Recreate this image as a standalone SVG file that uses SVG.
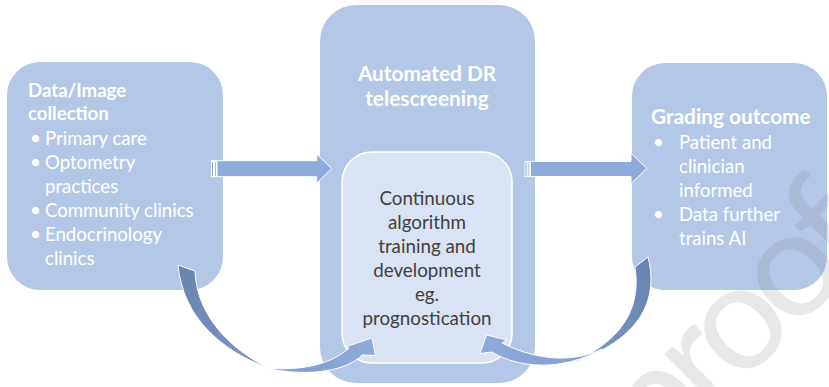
<svg xmlns="http://www.w3.org/2000/svg" width="829" height="387" viewBox="0 0 829 387">
  <defs>
    <style>
      .box { fill: #b4c7e7; }
      .inner { fill: #dae3f3; stroke: #ffffff; stroke-width: 1.5; }
      .arrow { fill: #8faadc; stroke: #ffffff; stroke-width: 1; }
      .t { font-family: Lato, "Liberation Sans", sans-serif; font-size: 18.6px; fill: #ffffff; }
      .tb { font-family: Lato, "Liberation Sans", sans-serif; font-weight: bold; fill: #ffffff; }
      .dark { font-family: Lato, "Liberation Sans", sans-serif; font-size: 18.8px; fill: #404040; text-anchor: middle; }
      .mark { font-family: Lato, "Liberation Sans", sans-serif; font-size: 150px; letter-spacing: -10px; fill: #808080; fill-opacity: 0.18; }
    </style>
    <linearGradient id="backL" gradientUnits="userSpaceOnUse" x1="185" y1="268" x2="268" y2="368">
      <stop offset="0" stop-color="#6a84b0"/>
      <stop offset="1" stop-color="#7d98c8"/>
    </linearGradient>
    <linearGradient id="frontL" gradientUnits="userSpaceOnUse" x1="266" y1="370" x2="375" y2="345">
      <stop offset="0" stop-color="#7f9bcb"/>
      <stop offset="1" stop-color="#8faadc"/>
    </linearGradient>
    <linearGradient id="backR" gradientUnits="userSpaceOnUse" x1="642" y1="262" x2="565" y2="365">
      <stop offset="0" stop-color="#6a84b0"/>
      <stop offset="1" stop-color="#7d98c8"/>
    </linearGradient>
    <linearGradient id="frontR" gradientUnits="userSpaceOnUse" x1="600" y1="350" x2="485" y2="345">
      <stop offset="0" stop-color="#7f9bcb"/>
      <stop offset="1" stop-color="#8faadc"/>
    </linearGradient>
  </defs>

  <rect width="829" height="387" fill="#ffffff"/>

  <!-- Data / image collection -->
  <g id="collection">
    <rect class="box" x="7" y="62" width="216" height="228" rx="33"/>
    <text class="tb" font-size="18.6" x="28" y="97">Data/Image</text>
    <text class="tb" font-size="18.6" x="28" y="120">collection</text>
    <g class="t">
      <text x="30" y="145">•</text><text x="45" y="145">Primary care</text>
      <text x="30" y="169">•</text><text x="45" y="169">Optometry</text>
      <text x="45" y="193">practices</text>
      <text x="30" y="217">•</text><text x="45" y="217">Community clinics</text>
      <text x="30" y="241">•</text><text x="45" y="241">Endocrinology</text>
      <text x="45" y="265">clinics</text>
    </g>
  </g>

  <!-- Automated DR telescreening with inner training box -->
  <g id="telescreening">
    <rect class="box" x="320" y="5" width="215" height="378" rx="36"/>
    <text class="tb" font-size="20.8" x="427" y="81" text-anchor="middle">Automated DR</text>
    <text class="tb" font-size="20.8" x="427" y="106" text-anchor="middle">telescreening</text>
  </g>
  <g id="training">
    <rect class="inner" x="342" y="152" width="170" height="211" rx="30"/>
    <g class="dark">
      <text x="427" y="205">Continuous</text>
      <text x="427" y="229">algorithm</text>
      <text x="427" y="253">training and</text>
      <text x="427" y="277">development</text>
      <text x="427" y="301">eg.</text>
      <text x="427" y="325">prognostication</text>
    </g>
  </g>

  <!-- Grading outcome -->
  <g id="outcome">
    <rect class="box" x="632" y="63" width="195" height="227" rx="33"/>
    <text class="tb" font-size="20.8" x="651" y="124">Grading outcome</text>
    <g class="t">
      <text x="653" y="149">•</text><text x="679" y="149">Patient and</text>
      <text x="679" y="173">clinician</text>
      <text x="679" y="197">informed</text>
      <text x="653" y="221">•</text><text x="679" y="221">Data further</text>
      <text x="679" y="245">trains AI</text>
    </g>
  </g>

  <!-- connectors -->
  <g id="connectors">
    <!-- striped block arrow: collection to telescreening -->
    <rect class="arrow" x="211.5" y="160.7" width="2" height="16"/>
    <rect class="arrow" x="214.5" y="160.7" width="1.8" height="16"/>
    <path class="arrow" d="M217,160.7 H316.7 V154 L331.7,168.7 L316.7,183.3 V176.7 H217 Z"/>
    <!-- striped block arrow: telescreening to outcome -->
    <rect class="arrow" x="525" y="161.5" width="2" height="15"/>
    <rect class="arrow" x="528" y="161.5" width="1.8" height="15"/>
    <path class="arrow" d="M530.5,161.5 H631 V153.3 L647,168.5 L631,183.5 V176.5 H530.5 Z"/>

    <!-- curved arrow: collection feeds training -->
    <path fill="url(#backL)" stroke="#ffffff" stroke-width="1" d="M178,265 L195,271 C196,302 214,340 268,368 C222,351 183,318 178,265 Z"/>
    <path fill="url(#frontL)" stroke="#ffffff" stroke-width="1" d="M266,368 C295,371 330,366 349,348 L346.5,346.5 L372,338 L375.5,355.5 L362,355 C348,370 310,378 266,368 Z"/>

    <!-- curved arrow: outcome feeds training -->
    <path fill="url(#backR)" stroke="#ffffff" stroke-width="1" d="M635,267 L648,257 C657,292 650,340 562,366 C618,346 642,312 635,267 Z"/>
    <path fill="url(#frontR)" stroke="#ffffff" stroke-width="1" d="M602,349 C575,362 540,362 502,343 L507,340 L486.5,335 L480,353.5 L492,352 C518,368 562,372 602,349 Z"/>
  </g>

  <!-- watermark -->
  <text class="mark" transform="translate(658,468) rotate(-45)">proof</text>
</svg>
